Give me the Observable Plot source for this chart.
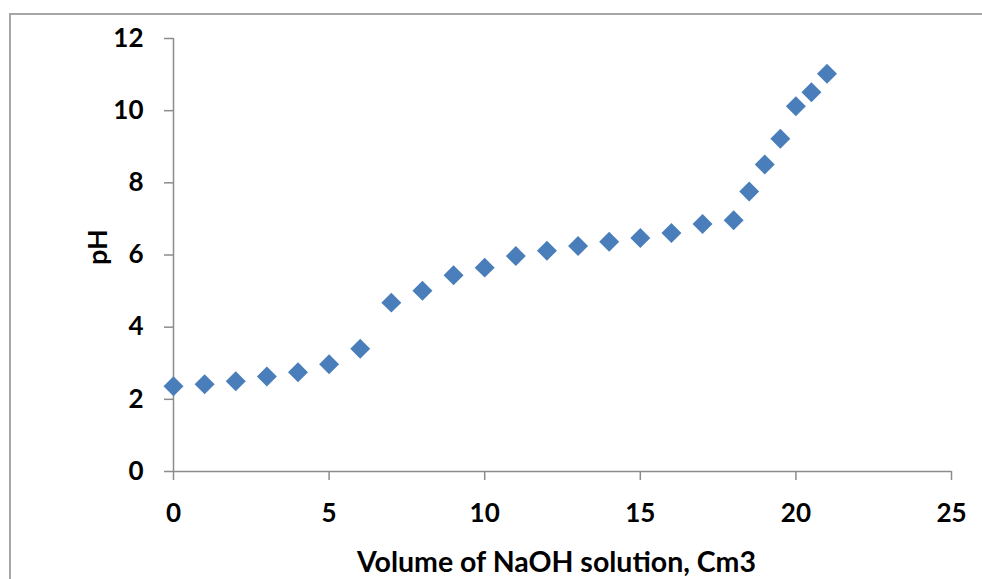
<!DOCTYPE html>
<html>
<head>
<meta charset="utf-8">
<script src="https://cdn.jsdelivr.net/npm/d3@7"></script>
<script src="https://cdn.jsdelivr.net/npm/@observablehq/plot@0.6"></script>
<style>
  html, body { margin: 0; padding: 0; background: #fff; overflow: hidden; }
  #wrap { position: relative; width: 982px; height: 579px; }
  #border { position: absolute; left: 9px; top: 13px; right: -10px; bottom: -10px;
            border-left: 2px solid #a6a6a6; border-top: 2px solid #a6a6a6; pointer-events: none; }
  #chart { position: absolute; left: 0; top: 0; }
</style>
</head>
<body>
<div id="wrap"><div id="chart"></div><div id="border"></div></div>
<script>
const volume = [0, 1, 2, 3, 4, 5, 6, 7, 8, 9, 10, 11, 12, 13, 14, 15, 16, 17, 18, 18.5, 19, 19.5, 20, 20.5, 21];
const pH = [2.36, 2.42, 2.50, 2.63, 2.75, 2.97, 3.40, 4.68, 5.01, 5.44, 5.65, 5.97, 6.12, 6.25, 6.37, 6.47, 6.61, 6.86, 6.96, 7.76, 8.51, 9.22, 10.12, 10.51, 11.02];
const xTicks = [0, 5, 10, 15, 20, 25];
const yTicks = [0, 2, 4, 6, 8, 10, 12];
const xLabel = "Volume of NaOH solution, Cm3";
const yLabel = "pH";

const data = volume.map((v, i) => ({volume: v, pH: pH[i]}));
const axisColor = "#8c8c8c";
const font = "Lato, 'Open Sans', sans-serif";

const chart = Plot.plot({
  width: 982,
  height: 579,
  marginLeft: 173,
  marginRight: 31,
  marginTop: 38,
  marginBottom: 108,
  style: {fontFamily: font, fontSize: "26px", fontWeight: "bold", color: "#000", background: "transparent"},
  x: {domain: [0, 25]},
  y: {domain: [0, 12]},
  marks: [
    Plot.ruleY([0], {stroke: axisColor, strokeWidth: 1.5}),
    Plot.ruleX([0], {stroke: axisColor, strokeWidth: 1.5}),
    Plot.axisX({ticks: xTicks, tickSize: 9, tickPadding: 23, stroke: axisColor, strokeWidth: 1.5, label: null, tickFormat: d => d}),
    Plot.axisY({ticks: yTicks, tickSize: 9, tickPadding: 21, stroke: axisColor, strokeWidth: 1.5, label: null, tickFormat: d => d}),
    Plot.dot(data, {x: "volume", y: "pH", symbol: "diamond2", r: 9, fill: "#4a7ebb", stroke: "none"}),
    Plot.text([xLabel], {frameAnchor: "bottom", lineAnchor: "middle", dx: -6, dy: 91, fontSize: 28.5, fontWeight: "bold", fill: "#000"}),
    Plot.text([yLabel], {frameAnchor: "left", dx: -75, dy: 10, rotate: -90, fontSize: 27, fontWeight: "bold", fill: "#000"})
  ]
});
document.getElementById("chart").appendChild(chart);
</script>
</body>
</html>
